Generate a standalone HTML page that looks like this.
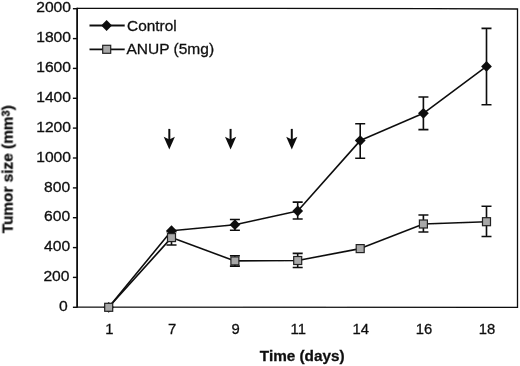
<!DOCTYPE html>
<html><head><meta charset="utf-8"><title>chart</title>
<style>html,body{margin:0;padding:0;background:#fff}svg{display:block}text{font-family:"Liberation Sans",sans-serif;fill:#111;stroke:#111;stroke-width:0.3px}</style></head><body>
<svg width="520" height="366" viewBox="0 0 520 366">
<rect width="520" height="366" fill="#fff"/>
<defs><filter id="soft" x="0" y="0" width="520" height="366" filterUnits="userSpaceOnUse"><feGaussianBlur stdDeviation="0.4"/></filter></defs><g filter="url(#soft)">
<path d="M77.1 8.35L270 8.45L430 8.65L517.5 9.0L517.5 307.40000000000003L77.1 307.2" fill="none" stroke="#111" stroke-width="1.3" stroke-linejoin="miter"/>
<path d="M77.1 7.7V307.85" fill="none" stroke="#111" stroke-width="1.8"/>
<line x1="72.89999999999999" y1="307.3" x2="77.1" y2="307.3" stroke="#111" stroke-width="1.4"/>
<text transform="translate(67.8,310.9) scale(1.065,1)" font-size="14.7" text-anchor="end">0</text>
<line x1="72.89999999999999" y1="277.4" x2="77.1" y2="277.4" stroke="#111" stroke-width="1.4"/>
<text transform="translate(69.5,281.0) scale(1.065,1)" font-size="14.7" text-anchor="end">200</text>
<line x1="72.89999999999999" y1="247.6" x2="77.1" y2="247.6" stroke="#111" stroke-width="1.4"/>
<text transform="translate(70.1,251.2) scale(1.065,1)" font-size="14.7" text-anchor="end">400</text>
<line x1="72.89999999999999" y1="217.7" x2="77.1" y2="217.7" stroke="#111" stroke-width="1.4"/>
<text transform="translate(70.1,221.3) scale(1.065,1)" font-size="14.7" text-anchor="end">600</text>
<line x1="72.89999999999999" y1="187.9" x2="77.1" y2="187.9" stroke="#111" stroke-width="1.4"/>
<text transform="translate(70.1,191.5) scale(1.065,1)" font-size="14.7" text-anchor="end">800</text>
<line x1="72.89999999999999" y1="158.0" x2="77.1" y2="158.0" stroke="#111" stroke-width="1.4"/>
<text transform="translate(71.0,161.6) scale(1.065,1)" font-size="14.7" text-anchor="end">1000</text>
<line x1="72.89999999999999" y1="128.1" x2="77.1" y2="128.1" stroke="#111" stroke-width="1.4"/>
<text transform="translate(71.0,131.7) scale(1.065,1)" font-size="14.7" text-anchor="end">1200</text>
<line x1="72.89999999999999" y1="98.3" x2="77.1" y2="98.3" stroke="#111" stroke-width="1.4"/>
<text transform="translate(71.0,101.9) scale(1.065,1)" font-size="14.7" text-anchor="end">1400</text>
<line x1="72.89999999999999" y1="68.4" x2="77.1" y2="68.4" stroke="#111" stroke-width="1.4"/>
<text transform="translate(71.0,72.0) scale(1.065,1)" font-size="14.7" text-anchor="end">1600</text>
<line x1="72.89999999999999" y1="38.6" x2="77.1" y2="38.6" stroke="#111" stroke-width="1.4"/>
<text transform="translate(71.0,42.2) scale(1.065,1)" font-size="14.7" text-anchor="end">1800</text>
<line x1="72.89999999999999" y1="8.7" x2="77.1" y2="8.7" stroke="#111" stroke-width="1.4"/>
<text transform="translate(71.0,12.3) scale(1.065,1)" font-size="14.7" text-anchor="end">2000</text>
<text x="109.3" y="333.5" font-size="14.8" text-anchor="middle">1</text>
<text x="172.1" y="333.5" font-size="14.8" text-anchor="middle">7</text>
<text x="235.5" y="333.5" font-size="14.8" text-anchor="middle">9</text>
<text x="298.3" y="333.5" font-size="14.8" text-anchor="middle">11</text>
<text x="360.8" y="333.5" font-size="14.8" text-anchor="middle">14</text>
<text x="424.0" y="333.5" font-size="14.8" text-anchor="middle">16</text>
<text x="487.1" y="333.5" font-size="14.8" text-anchor="middle">18</text>
<text x="302.2" y="361.2" font-size="15.3" font-weight="bold" text-anchor="middle">Time (days)</text>
<text transform="translate(12.6,169.3) rotate(-90)" font-size="15.4" font-weight="bold" text-anchor="middle">Tumor size (mm<tspan font-size="11" dy="-3.4">3</tspan><tspan dy="3.4">)</tspan></text>
<path d="M234.9 219.5V230.3M229.9 219.5h10M229.9 230.3h10" stroke="#111" stroke-width="1.6" fill="none"/>
<path d="M297.7 202.1V219.0M292.7 202.1h10M292.7 219.0h10" stroke="#111" stroke-width="1.6" fill="none"/>
<path d="M360.2 123.8V158.3M355.2 123.8h10M355.2 158.3h10" stroke="#111" stroke-width="1.6" fill="none"/>
<path d="M423.4 97.0V129.6M418.4 97.0h10M418.4 129.6h10" stroke="#111" stroke-width="1.6" fill="none"/>
<path d="M486.5 28.4V104.8M481.5 28.4h10M481.5 104.8h10" stroke="#111" stroke-width="1.6" fill="none"/>
<path d="M108.7 307.3 L171.5 230.7 L234.9 224.7 L297.7 211.0 L360.2 140.6 L423.4 113.3 L486.5 66.4" stroke="#111" stroke-width="1.6" fill="none" stroke-linejoin="round"/>
<path d="M108.7 301.9L114.1 307.3L108.7 312.7L103.3 307.3Z" fill="#111"/>
<path d="M171.5 225.3L176.9 230.7L171.5 236.1L166.1 230.7Z" fill="#111"/>
<path d="M234.9 219.3L240.3 224.7L234.9 230.1L229.5 224.7Z" fill="#111"/>
<path d="M297.7 205.6L303.1 211.0L297.7 216.4L292.3 211.0Z" fill="#111"/>
<path d="M360.2 135.2L365.6 140.6L360.2 146.0L354.8 140.6Z" fill="#111"/>
<path d="M423.4 107.9L428.8 113.3L423.4 118.7L418.0 113.3Z" fill="#111"/>
<path d="M486.5 61.0L491.9 66.4L486.5 71.8L481.1 66.4Z" fill="#111"/>
<path d="M171.5 231.6V245.0M166.5 231.6h10M166.5 245.0h10" stroke="#111" stroke-width="1.6" fill="none"/>
<path d="M234.9 255.8V266.1M229.9 255.8h10M229.9 266.1h10" stroke="#111" stroke-width="1.6" fill="none"/>
<path d="M297.7 253.4V267.5M292.7 253.4h10M292.7 267.5h10" stroke="#111" stroke-width="1.6" fill="none"/>
<path d="M423.4 215.0V232.0M418.4 215.0h10M418.4 232.0h10" stroke="#111" stroke-width="1.6" fill="none"/>
<path d="M486.5 206.3V236.5M481.5 206.3h10M481.5 236.5h10" stroke="#111" stroke-width="1.6" fill="none"/>
<path d="M108.7 307.3 L171.5 237.6 L234.9 260.9 L297.7 260.5 L360.2 248.6 L423.4 224.0 L486.5 221.7" stroke="#111" stroke-width="1.6" fill="none" stroke-linejoin="round"/>
<rect x="104.7" y="303.3" width="8.0" height="8.0" fill="#a8a8a8" stroke="#222" stroke-width="1.2"/>
<rect x="167.5" y="233.6" width="8.0" height="8.0" fill="#a8a8a8" stroke="#222" stroke-width="1.2"/>
<rect x="230.9" y="256.9" width="8.0" height="8.0" fill="#a8a8a8" stroke="#222" stroke-width="1.2"/>
<rect x="293.7" y="256.5" width="8.0" height="8.0" fill="#a8a8a8" stroke="#222" stroke-width="1.2"/>
<rect x="356.2" y="244.6" width="8.0" height="8.0" fill="#a8a8a8" stroke="#222" stroke-width="1.2"/>
<rect x="419.4" y="220.0" width="8.0" height="8.0" fill="#a8a8a8" stroke="#222" stroke-width="1.2"/>
<rect x="482.5" y="217.7" width="8.0" height="8.0" fill="#a8a8a8" stroke="#222" stroke-width="1.2"/>
<path d="M169.3 128.9V140" stroke="#111" stroke-width="2" fill="none"/>
<path d="M163.7 136.7L169.3 139.6L174.9 136.7L169.3 149.5Z" fill="#111"/>
<path d="M230.6 128.9V140" stroke="#111" stroke-width="2" fill="none"/>
<path d="M225.0 136.7L230.6 139.6L236.2 136.7L230.6 149.5Z" fill="#111"/>
<path d="M291.8 128.9V140" stroke="#111" stroke-width="2" fill="none"/>
<path d="M286.2 136.7L291.8 139.6L297.4 136.7L291.8 149.5Z" fill="#111"/>
<path d="M89.5 25.5H124.7" stroke="#111" stroke-width="1.8"/>
<path d="M106.6 20.1L112.0 25.5L106.6 30.9L101.2 25.5Z" fill="#111"/>
<path d="M89.5 49.3H124.7" stroke="#111" stroke-width="1.8"/>
<rect x="102.7" y="45.3" width="8.0" height="8.0" fill="#a8a8a8" stroke="#222" stroke-width="1.2"/>
<text x="127.1" y="30.5" font-size="15.4">Control</text>
<text x="126.5" y="54.3" font-size="15.5">ANUP (5mg)</text>
</g></svg></body></html>
